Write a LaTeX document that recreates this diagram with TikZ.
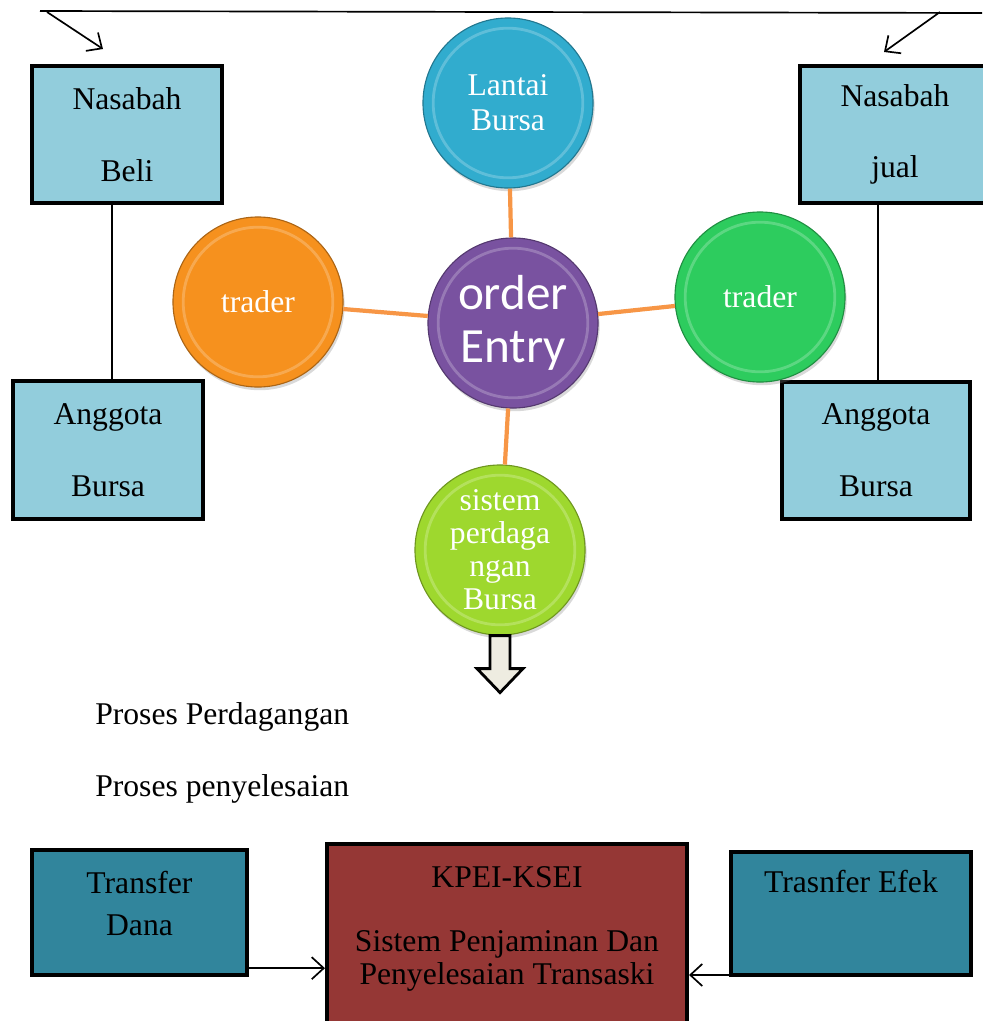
\documentclass[tikz,border=0pt]{standalone}
\usepackage{fontspec}
\setmainfont{Liberation Serif}
\newfontfamily\calibri{Carlito}
\usetikzlibrary{arrows.meta, positioning, shadows}

\definecolor{lantaiblue}{HTML}{31ACCE}
\definecolor{orderpurple}{HTML}{7952A0}
\definecolor{traderorange}{HTML}{F6911E}
\definecolor{tradergreen}{HTML}{2DCC5E}
\definecolor{sistemlime}{HTML}{9ED82E}
\definecolor{nasabahblue}{HTML}{92CDDC}
\definecolor{transferteal}{HTML}{31859C}
\definecolor{kpeired}{HTML}{953735}
\definecolor{linkorange}{HTML}{F79646}
\definecolor{arrowtan}{HTML}{EEECE1}

\begin{document}
\begin{tikzpicture}[x=0.025cm, y=-0.025cm,
    party/.style={rectangle, draw, line width=2.8pt, fill=nasabahblue, align=center, font=\fontsize{22.5}{51}\selectfont},
    settle/.style={rectangle, draw, line width=2.8pt, fill=#1, align=center, font=\fontsize{22.5}{30}\selectfont},
    bubble/.style={circle, minimum size=4.25cm, inner sep=0pt, fill=#1, draw=#1!70!black, line width=0.8pt, text=white, align=center, font=\fontsize{22.5}{25}\selectfont,
        drop shadow={opacity=0.3, shadow xshift=0.04cm, shadow yshift=-0.08cm},
        path picture={\draw[#1!50!white, line width=2pt, opacity=0.45] (path picture bounding box.center) circle (1.87cm);}},
    link/.style={linkorange, line width=3pt},
    thinarrow/.style={-{Straight Barb[length=3mm, width=5.5mm]}, line width=1.2pt}
]
\useasboundingbox (0,0) rectangle (982,1021);

\node[party, minimum width=4.75cm, minimum height=3.425cm] (beli) at (127,134.5) {Nasabah\\Beli};
\node[party, minimum width=4.75cm, minimum height=3.425cm] (jual) at (895,134.5) {Nasabah\\jual};
\node[party, minimum width=4.75cm, minimum height=3.45cm] (anggotaL) at (108,450) {Anggota\\Bursa};
\node[party, minimum width=4.7cm, minimum height=3.425cm] (anggotaR) at (876,450.5) {Anggota\\Bursa};

\node[bubble=lantaiblue] (lantai) at (508,103) {Lantai\\Bursa};
\node[bubble=orderpurple, font=\calibri\fontsize{35}{38}\selectfont] (order) at (513,323) {order\\Entry};
\node[bubble=traderorange] (traderL) at (258,302) {trader};
\node[bubble=tradergreen] (traderR) at (760,297) {trader};
\node[bubble=sistemlime, font=\fontsize{22.5}{23.5}\selectfont] (sistem) at (500,550) {sistem\\perdaga\\ngan\\Bursa};

\draw[link] (order) -- (lantai);
\draw[link] (order) -- (traderL);
\draw[link] (order) -- (traderR);
\draw[link] (order) -- (sistem);

\coordinate (topL) at (40,11);
\coordinate (topR) at (982,13);
\coordinate (tailL) at (47,12);
\coordinate (headL) at (103,49);
\coordinate (tailR) at (940,12);
\coordinate (headR) at (884,52);
\draw[line width=1.2pt] (topL) -- (topR);
\draw[thinarrow] (tailL) -- (headL);
\draw[thinarrow] (tailR) -- (headR);

\draw[line width=1.2pt] ([xshift=0.1cm]anggotaL.north) -- ([xshift=0.1cm]anggotaL.north |- beli.south);
\draw[line width=1.2pt] ([xshift=0.05cm]anggotaR.north) -- ([xshift=0.05cm]anggotaR.north |- jual.south);

\draw[fill=arrowtan, line width=2pt] (sistem.south) ++(-10,0) -- ++(0,33) -- ++(-13,0) -- ++(23,24) -- ++(23,-24) -- ++(-13,0) -- ++(0,-33) -- cycle;

\node[anchor=west, inner sep=0pt, font=\fontsize{22.5}{26}\selectfont] (dagang) at (95,717) {Proses Perdagangan};
\node[anchor=west, inner sep=0pt, font=\fontsize{22.5}{26}\selectfont] (selesai) at (95,789) {Proses penyelesaian};

\node[settle=transferteal, minimum width=5.375cm, minimum height=3.125cm] (dana) at (139.5,912.5) {Transfer\\Dana\\[-17pt]\mbox{}};
\node[settle=kpeired, minimum width=9cm, minimum height=4.6cm, font=\fontsize{22.5}{23.5}\selectfont] (kpei) at (507,936) {KPEI-KSEI\\[22pt]Sistem Penjaminan Dan\\Penyelesaian Transaski\\[-8pt]\mbox{}};
\node[settle=transferteal, minimum width=6cm, minimum height=3.075cm, text depth=46pt] (efek) at (851,913.5) {Trasnfer Efek};

\draw[thinarrow] ([yshift=2.2mm]dana.south east) -- ([yshift=2.2mm]dana.south east -| kpei.west);
\draw[thinarrow] ([yshift=0.5mm]efek.south west) -- ([yshift=0.5mm]efek.south west -| kpei.east);
\end{tikzpicture}
\end{document}
